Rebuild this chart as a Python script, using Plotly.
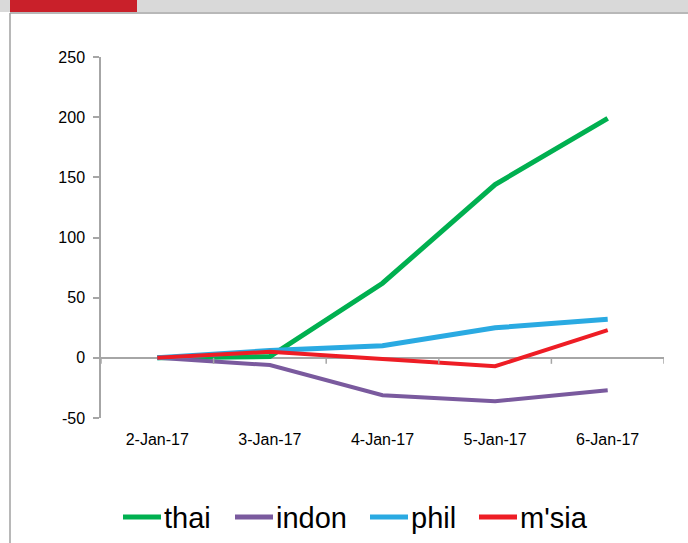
import plotly.graph_objects as go

# Daily change by market, early January 2017
dates = ["2-Jan-17", "3-Jan-17", "4-Jan-17", "5-Jan-17", "6-Jan-17"]
thai = [0, 1, 62, 144, 199]
indon = [0, -6, -31, -36, -27]
phil = [0, 6, 10, 25, 32]
msia = [0, 5, -1, -7, 23]
y_ticks = [-50, 0, 50, 100, 150, 200, 250]

series = [
    ("thai", thai, "#00B050", 5),
    ("indon", indon, "#7A5A9E", 4),
    ("phil", phil, "#2AAAE2", 5),
    ("m'sia", msia, "#EE1D25", 4),
]

W, H = 688, 543
L, R, T, B = 101, 24, 57, 125
PW, PH = W - L - R, H - T - B


def px(x):
    return (x - L) / PW


def py(y):
    return (H - B - y) / PH


fig = go.Figure()
for name, vals, color, width in series:
    fig.add_trace(go.Scatter(
        x=list(range(len(dates))), y=vals, name=name, mode="lines",
        line=dict(color=color, width=width), showlegend=False,
    ))

axis_grey = "#A6A6A6"
font_family = "Liberation Sans, Arial, sans-serif"

# tick marks on the zero line at category boundaries
shapes = []
for i in range(len(dates) + 1):
    shapes.append(dict(
        type="line", xref="x", yref="y", x0=i - 0.5, x1=i - 0.5,
        ysizemode="pixel", yanchor=0, y0=0, y1=-6,
        line=dict(color=axis_grey, width=1.5),
    ))

# frame and header band
shapes += [
    dict(type="rect", xref="paper", yref="paper", x0=px(-20), x1=px(W + 20), y0=py(12), y1=py(-20),
         fillcolor="#D9D9D9", line=dict(width=0), layer="below"),
    dict(type="rect", xref="paper", yref="paper", x0=px(10), x1=px(137), y0=py(12), y1=py(-20),
         fillcolor="#C9202A", line=dict(width=0), layer="below"),
    dict(type="line", xref="paper", yref="paper", x0=px(10), x1=px(W + 20), y0=py(13), y1=py(13),
         line=dict(color="#A0A0A0", width=1.5)),
    dict(type="line", xref="paper", yref="paper", x0=px(10), x1=px(10), y0=py(13), y1=py(H + 20),
         line=dict(color="#A0A0A0", width=1.5)),
]

# legend drawn as line swatches with labels below the chart
annotations = []
legend_x = [123, 235, 370, 479]
legend_y = 517
for (name, vals, color, width), lx in zip(series, legend_x):
    shapes.append(dict(
        type="line", xref="paper", yref="paper", x0=px(lx), x1=px(lx + 38),
        y0=py(legend_y), y1=py(legend_y), line=dict(color=color, width=5),
    ))
    annotations.append(dict(
        xref="paper", yref="paper", x=px(lx + 39), y=py(legend_y + 1),
        xanchor="left", yanchor="middle", text=name, showarrow=False,
        font=dict(size=29, family=font_family, color="#000000"),
    ))

fig.update_layout(
    width=W, height=H,
    margin=dict(l=L, r=R, t=T, b=B, autoexpand=False),
    paper_bgcolor="white", plot_bgcolor="white",
    font=dict(family=font_family, color="#000000"),
    showlegend=False,
    xaxis=dict(
        range=[-0.5, len(dates) - 0.5], tickmode="array",
        tickvals=list(range(len(dates))), ticktext=dates,
        showgrid=False, zeroline=False, showline=False, ticks="",
        tickfont=dict(size=16), ticklabelstandoff=10,
    ),
    yaxis=dict(
        range=[-50, 250], tickmode="array", tickvals=y_ticks,
        ticktext=[str(v) for v in y_ticks],
        showgrid=False, zeroline=True, zerolinecolor=axis_grey, zerolinewidth=1.5,
        showline=True, linecolor=axis_grey, linewidth=1.5,
        ticks="outside", ticklen=6, tickcolor=axis_grey, tickwidth=1.5,
        tickfont=dict(size=16), ticklabelstandoff=5,
    ),
    shapes=shapes,
    annotations=annotations,
)

fig.write_html("out.html")
